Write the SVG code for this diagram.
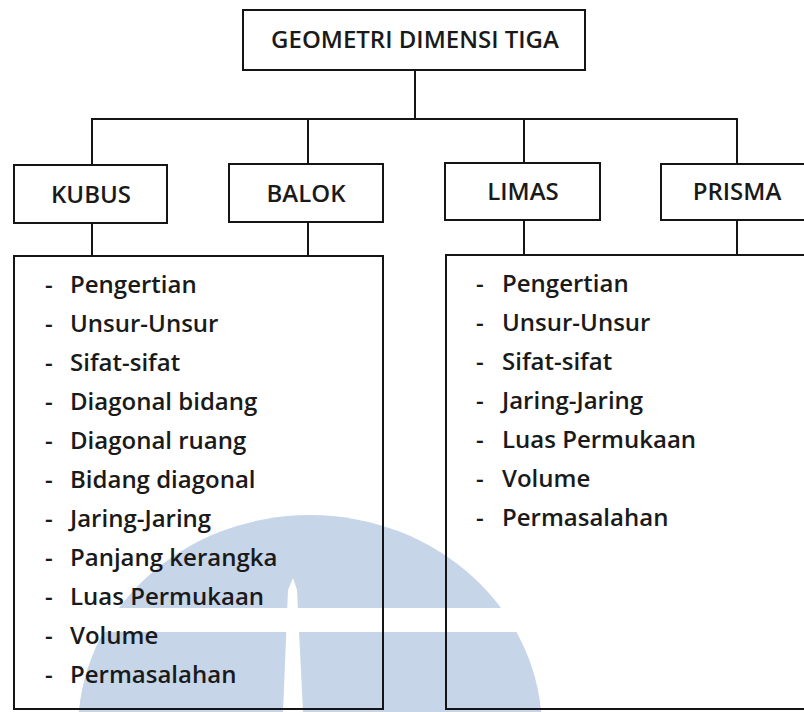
<svg xmlns="http://www.w3.org/2000/svg" width="804" height="712" viewBox="0 0 804 712">
  <style>
    .box { fill: none; stroke: #151515; stroke-width: 2; }
    .conn { fill: none; stroke: #151515; stroke-width: 2; }
    .lbl { font-family: "Open Sans", "Liberation Sans", sans-serif; font-size: 24px; font-weight: 600; fill: #1a1a1a; text-anchor: middle; }
    .item { font-family: "Open Sans", "Liberation Sans", sans-serif; font-size: 24px; font-weight: 600; fill: #1a1a1a; }
  </style>
  <rect x="0" y="0" width="804" height="712" fill="#ffffff"/>
  <g id="watermark" fill="#c6d5e8">
    <clipPath id="wmclip">
      <rect x="0" y="0" width="804" height="712"/>
    </clipPath>
    <g clip-path="url(#wmclip)">
      <path d="M 78 730 A 232 215 0 0 1 542 730 Z" />
    </g>
    <polygon points="293,578 297,590 303,712 283,712 288,590" fill="#ffffff"/>
    <rect x="40" y="608" width="520" height="24" fill="#ffffff"/>
  </g>
  <g id="connectors">
    <line class="conn" x1="415" y1="70" x2="415" y2="119"/>
    <line class="conn" x1="91" y1="119" x2="738" y2="119"/>
    <line class="conn" x1="92" y1="119" x2="92" y2="165"/>
    <line class="conn" x1="308" y1="119" x2="308" y2="164"/>
    <line class="conn" x1="524" y1="119" x2="524" y2="163"/>
    <line class="conn" x1="737" y1="119" x2="737" y2="164"/>
    <line class="conn" x1="92" y1="223" x2="92" y2="256"/>
    <line class="conn" x1="308" y1="222" x2="308" y2="256"/>
    <line class="conn" x1="524" y1="220" x2="524" y2="255"/>
    <line class="conn" x1="737" y1="220" x2="737" y2="255"/>
  </g>
  <g id="geometri">
    <rect class="box" x="243" y="10" width="342" height="60"/>
    <text class="lbl" x="415" y="48">GEOMETRI DIMENSI TIGA</text>
  </g>
  <g id="kubus">
    <rect class="box" x="14" y="165" width="153" height="58"/>
    <text class="lbl" x="91" y="203">KUBUS</text>
  </g>
  <g id="balok">
    <rect class="box" x="229" y="164" width="154" height="58"/>
    <text class="lbl" x="306" y="202">BALOK</text>
  </g>
  <g id="limas">
    <rect class="box" x="445" y="163" width="155" height="57"/>
    <text class="lbl" x="523" y="200">LIMAS</text>
  </g>
  <g id="prisma">
    <rect class="box" x="661" y="164" width="160" height="56"/>
    <text class="lbl" x="737" y="200">PRISMA</text>
  </g>
  <g id="list-kubus-balok">
    <rect class="box" x="14" y="256" width="369" height="453"/>
    <text class="item" y="293"><tspan x="45">-</tspan><tspan x="70">Pengertian</tspan></text>
    <text class="item" y="332"><tspan x="45">-</tspan><tspan x="70">Unsur-Unsur</tspan></text>
    <text class="item" y="371"><tspan x="45">-</tspan><tspan x="70">Sifat-sifat</tspan></text>
    <text class="item" y="410"><tspan x="45">-</tspan><tspan x="70">Diagonal bidang</tspan></text>
    <text class="item" y="449"><tspan x="45">-</tspan><tspan x="70">Diagonal ruang</tspan></text>
    <text class="item" y="488"><tspan x="45">-</tspan><tspan x="70">Bidang diagonal</tspan></text>
    <text class="item" y="527"><tspan x="45">-</tspan><tspan x="70">Jaring-Jaring</tspan></text>
    <text class="item" y="566"><tspan x="45">-</tspan><tspan x="70">Panjang kerangka</tspan></text>
    <text class="item" y="605"><tspan x="45">-</tspan><tspan x="70">Luas Permukaan</tspan></text>
    <text class="item" y="644"><tspan x="45">-</tspan><tspan x="70">Volume</tspan></text>
    <text class="item" y="683"><tspan x="45">-</tspan><tspan x="70">Permasalahan</tspan></text>
  </g>
  <g id="list-limas-prisma">
    <rect class="box" x="446" y="255" width="370" height="454"/>
    <text class="item" y="292"><tspan x="476">-</tspan><tspan x="502">Pengertian</tspan></text>
    <text class="item" y="331"><tspan x="476">-</tspan><tspan x="502">Unsur-Unsur</tspan></text>
    <text class="item" y="370"><tspan x="476">-</tspan><tspan x="502">Sifat-sifat</tspan></text>
    <text class="item" y="409"><tspan x="476">-</tspan><tspan x="502">Jaring-Jaring</tspan></text>
    <text class="item" y="448"><tspan x="476">-</tspan><tspan x="502">Luas Permukaan</tspan></text>
    <text class="item" y="487"><tspan x="476">-</tspan><tspan x="502">Volume</tspan></text>
    <text class="item" y="526"><tspan x="476">-</tspan><tspan x="502">Permasalahan</tspan></text>
  </g>
</svg>
